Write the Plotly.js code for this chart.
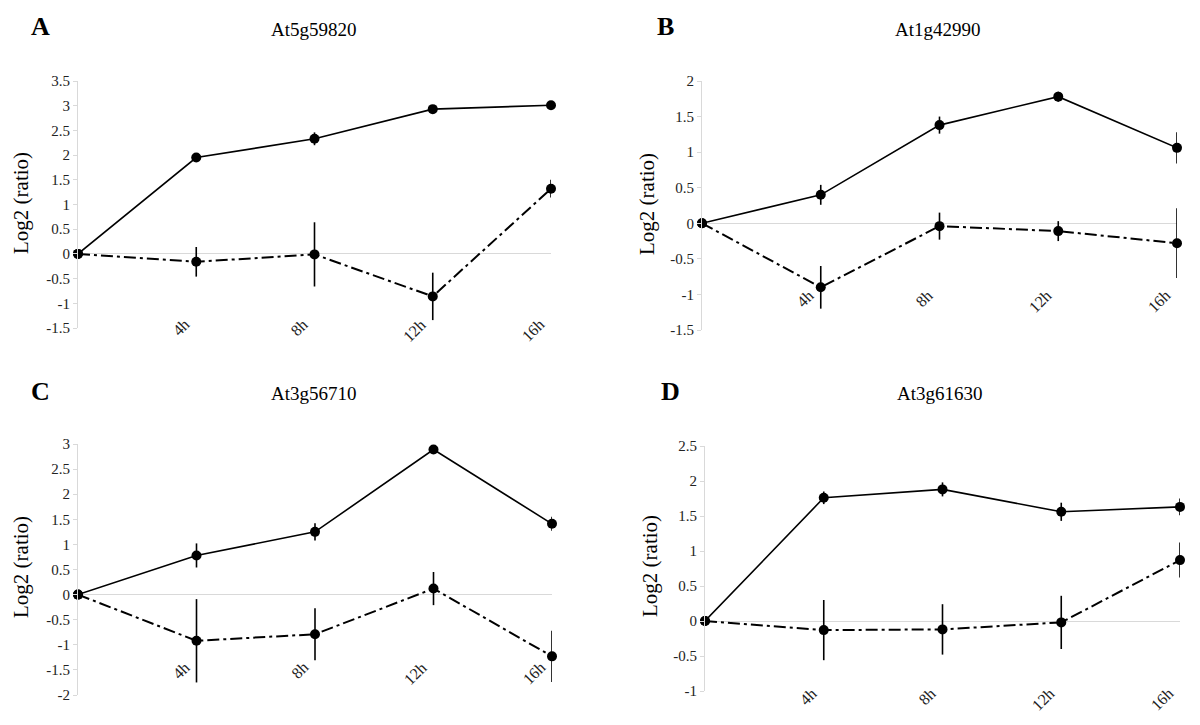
<!DOCTYPE html>
<html>
<head>
<meta charset="utf-8">
<script src="https://cdn.plot.ly/plotly-3.0.1.min.js"></script>
<style>html,body{margin:0;padding:0;background:#fff;}#chart{width:1200px;height:725px;}</style>
</head>
<body>
<div id="chart"></div>
<script>
// ---- data ----
const categories = ["0h", "4h", "8h", "12h", "16h"];
const xTickLabels = ["", "4h", "8h", "12h", "16h"];
const panelLetters = ["A", "B", "C", "D"];
const geneTitles = ["At5g59820", "At1g42990", "At3g56710", "At3g61630"];
const yAxisTitle = "Log2 (ratio)";

const solidA = [0, 1.95, 2.33, 2.93, 3.01];
const solidErrA = [0, 0.04, 0.13, 0.03, 0.03];
const dashA = [0, -0.16, -0.01, -0.86, 1.32];
const dashErrA = [0, 0.30, 0.65, 0.48, 0.18];

const solidB = [0, 0.40, 1.38, 1.78, 1.06];
const solidErrB = [0, 0.14, 0.12, 0.07, 0.22];
const dashB = [0, -0.90, -0.04, -0.11, -0.28];
const dashErrB = [0, 0.30, 0.19, 0.14, 0.49];

const solidC = [0, 0.78, 1.25, 2.89, 1.41];
const solidErrC = [0, 0.24, 0.17, 0.03, 0.14];
const dashC = [0, -0.92, -0.79, 0.12, -1.23];
const dashErrC = [0, 0.83, 0.52, 0.33, 0.51];

const solidD = [0, 1.76, 1.88, 1.56, 1.63];
const solidErrD = [0, 0.09, 0.10, 0.13, 0.12];
const dashD = [0, -0.13, -0.12, -0.02, 0.87];
const dashErrD = [0, 0.43, 0.36, 0.38, 0.25];

const yTicksA = [-1.5, -1, -0.5, 0, 0.5, 1, 1.5, 2, 2.5, 3, 3.5];
const yTicksB = [-1.5, -1, -0.5, 0, 0.5, 1, 1.5, 2];
const yTicksC = [-2, -1.5, -1, -0.5, 0, 0.5, 1, 1.5, 2, 2.5, 3];
const yTicksD = [-1, -0.5, 0, 0.5, 1, 1.5, 2, 2.5];

// ---- build ----
const W = 1200, H = 725;
const FONT = "Liberation Serif";
const px = v => v / W;
const py = v => 1 - v / H;

const panels = [
  {solid: solidA, solidErr: solidErrA, dash: dashA, dashErr: dashErrA, ticks: yTicksA,
   dx: [78, 551], dy: [328, 81], labTop: 313, letter: [40, 26], title: [314, 30], ytitle: [21, 203]},
  {solid: solidB, solidErr: solidErrB, dash: dashB, dashErr: dashErrB, ticks: yTicksB,
   dx: [702, 1177], dy: [330, 81], labTop: 284, letter: [665, 26], title: [938, 30], ytitle: [647, 204]},
  {solid: solidC, solidErr: solidErrC, dash: dashC, dashErr: dashErrC, ticks: yTicksC,
   dx: [78, 552], dy: [695, 444], labTop: 656, letter: [40, 391], title: [314, 393], ytitle: [21, 567]},
  {solid: solidD, solidErr: solidErrD, dash: dashD, dashErr: dashErrD, ticks: yTicksD,
   dx: [705, 1180], dy: [691, 446], labTop: 682, letter: [670, 391], title: [940, 393], ytitle: [650, 566]}
];

const traces = [];
const layout = {
  width: W, height: H,
  margin: {l: 0, r: 0, t: 0, b: 0},
  paper_bgcolor: "#ffffff", plot_bgcolor: "rgba(0,0,0,0)",
  showlegend: false,
  font: {family: FONT, size: 15, color: "#222"},
  annotations: []
};

panels.forEach((p, i) => {
  const n = i + 1;
  const xa = n === 1 ? "x" : "x" + n;
  const ya = n === 1 ? "y" : "y" + n;
  traces.push({
    type: "scatter", mode: "lines+markers", x: categories, y: p.dash,
    xaxis: xa, yaxis: ya, cliponaxis: false,
    line: {color: "#000", width: 2, dash: "12px,4px,3px,4px"},
    marker: {color: "#000", size: 10},
    error_y: {type: "data", array: p.dashErr, visible: true, color: "#000", thickness: 1.6, width: 0}
  });
  traces.push({
    type: "scatter", mode: "lines+markers", x: categories, y: p.solid,
    xaxis: xa, yaxis: ya, cliponaxis: false,
    line: {color: "#000", width: 1.6},
    marker: {color: "#000", size: 10},
    error_y: {type: "data", array: p.solidErr, visible: true, color: "#000", thickness: 1.6, width: 0}
  });
  const xKey = n === 1 ? "xaxis" : "xaxis" + n;
  const yKey = n === 1 ? "yaxis" : "yaxis" + n;
  layout[xKey] = {
    domain: [px(p.dx[0]), px(p.dx[1])],
    anchor: ya, type: "category", range: [0, categories.length - 1],
    showticklabels: false,
    showline: false, showgrid: false, zeroline: false, ticks: "", fixedrange: true
  };
  layout[yKey] = {
    domain: [py(p.dy[0]), py(p.dy[1])],
    anchor: xa, range: [p.ticks[0], p.ticks[p.ticks.length - 1]],
    tickvals: p.ticks, ticktext: p.ticks.map(v => String(v)),
    showline: true, linecolor: "#d9d9d9", linewidth: 1,
    ticks: "outside", ticklen: 4, tickcolor: "#d9d9d9",
    showgrid: false, zeroline: true, zerolinecolor: "#d9d9d9", zerolinewidth: 1,
    tickfont: {family: FONT, size: 15, color: "#222"}, fixedrange: true
  };
  // category labels (Excel-style, rotated)
  categories.forEach((c, k) => {
    if (!xTickLabels[k]) return;
    layout.annotations.push({
      xref: xa, yref: "paper", x: c, y: py(p.labTop),
      xanchor: "right", yanchor: "top", showarrow: false, textangle: -45,
      xshift: -1, text: xTickLabels[k], font: {family: FONT, size: 16, color: "#222"}
    });
  });
  layout.annotations.push({
    xref: "paper", yref: "paper", x: px(p.letter[0]), y: py(p.letter[1]),
    xanchor: "center", yanchor: "middle", showarrow: false,
    text: "<b>" + panelLetters[i] + "</b>", font: {family: FONT, size: 26, color: "#000"}
  });
  layout.annotations.push({
    xref: "paper", yref: "paper", x: px(p.title[0]), y: py(p.title[1]),
    xanchor: "center", yanchor: "middle", showarrow: false,
    text: geneTitles[i], font: {family: FONT, size: 19, color: "#000"}
  });
  layout.annotations.push({
    xref: "paper", yref: "paper", x: px(p.ytitle[0]), y: py(p.ytitle[1]),
    xanchor: "center", yanchor: "middle", showarrow: false, textangle: -90,
    text: yAxisTitle, font: {family: FONT, size: 21, color: "#000"}
  });
});

Plotly.newPlot("chart", traces, layout, {staticPlot: true, displayModeBar: false});
</script>
</body>
</html>
